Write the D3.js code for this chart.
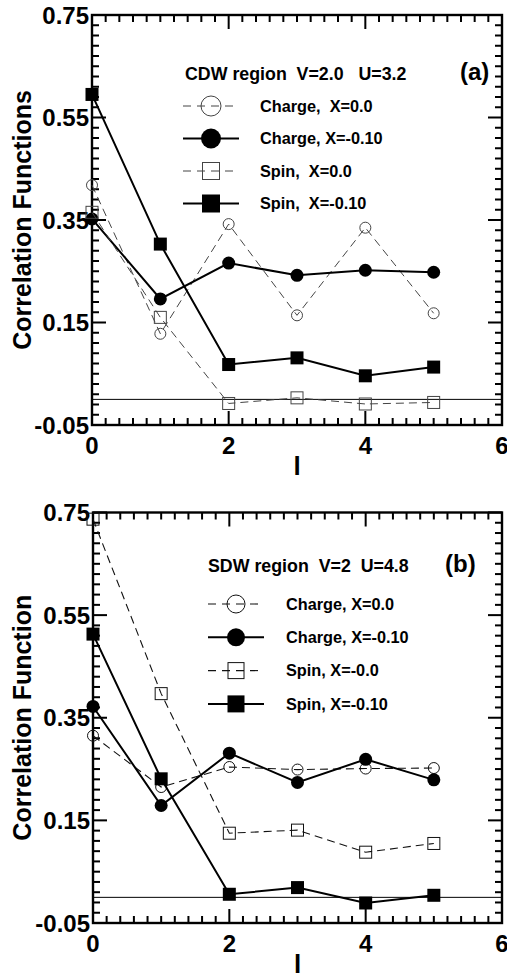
<!DOCTYPE html>
<html>
<head>
<meta charset="utf-8">
<script src="https://cdn.jsdelivr.net/npm/d3@7"></script>
<style>
  html, body { margin: 0; padding: 0; background: #fff; }
  svg { display: block; }
  text { font-family: "Liberation Sans", Arial, Helvetica, sans-serif; font-weight: bold; fill: #000; }
</style>
</head>
<body>
<svg id="chart" width="507" height="980"></svg>
<script>
// ---------- data ----------
const lValues = [0, 1, 2, 3, 4, 5];
const xMajorTicks = [0, 2, 4, 6];
const yMajorTicks = [-0.05, 0.15, 0.35, 0.55, 0.75];

// Panel (a): CDW region V=2.0 U=3.2
const chargeX0_a  = [0.418, 0.128, 0.342, 0.164, 0.335, 0.168];
const chargeX10_a = [0.352, 0.196, 0.266, 0.242, 0.252, 0.248];
const spinX0_a    = [0.365, 0.160, -0.008, 0.003, -0.009, -0.006];
const spinX10_a   = [0.595, 0.303, 0.068, 0.081, 0.046, 0.063];
const legend_a = ["Charge,  X=0.0", "Charge, X=-0.10", "Spin,  X=0.0", "Spin,  X=-0.10"];

// Panel (b): SDW region V=2 U=4.8
const chargeX0_b  = [0.315, 0.215, 0.254, 0.249, 0.251, 0.252];
const chargeX10_b = [0.372, 0.179, 0.281, 0.224, 0.269, 0.229];
const spinX0_b    = [0.737, 0.397, 0.125, 0.131, 0.088, 0.105];
const spinX10_b   = [0.513, 0.231, 0.006, 0.019, -0.011, 0.004];
const legend_b = ["Charge, X=0.0", "Charge, X=-0.10", "Spin, X=-0.0", "Spin, X=-0.10"];

// ---------- drawing ----------
const svg = d3.select("#chart");

function drawPanel(cfg) {
  const g = svg.append("g");
  const x = d3.scaleLinear().domain([0, 6]).range([cfg.left, cfg.right]);
  const y = d3.scaleLinear().domain([-0.05, 0.75]).range([cfg.bottom, cfg.top]);

  const xMinor = d3.range(0, 31).map(i => +(i * 0.2).toFixed(2)).filter(v => !xMajorTicks.includes(v));
  const yMinor = d3.range(0, 41).map(i => +(-0.05 + i * 0.02).toFixed(3))
    .filter(v => !yMajorTicks.some(m => Math.abs(m - v) < 1e-6));
  const H = cfg.bottom - cfg.top, W = cfg.right - cfg.left;

  // frame
  g.append("rect").attr("x", cfg.left).attr("y", cfg.top).attr("width", W).attr("height", H)
    .attr("fill", "none").attr("stroke", "#000").attr("stroke-width", 2.4);

  // ticks (inward, on all four sides) drawn as filled rectangles
  const tw = 2;
  const xTicks = xMinor.map(v => ({ v, len: 7 })).concat(xMajorTicks.map(v => ({ v, len: 14 })));
  const yTicks = yMinor.map(v => ({ v, len: 7 })).concat(yMajorTicks.map(v => ({ v, len: 14 })));
  const tk = g.append("g");
  xTicks.forEach(t => {
    tk.append("rect").attr("x", x(t.v) - tw / 2).attr("y", cfg.bottom - t.len).attr("width", tw).attr("height", t.len).attr("fill", "#000");
    tk.append("rect").attr("x", x(t.v) - tw / 2).attr("y", cfg.top).attr("width", tw).attr("height", t.len).attr("fill", "#000");
  });
  yTicks.forEach(t => {
    tk.append("rect").attr("x", cfg.left).attr("y", y(t.v) - tw / 2).attr("width", t.len).attr("height", tw).attr("fill", "#000");
    tk.append("rect").attr("x", cfg.right - t.len).attr("y", y(t.v) - tw / 2).attr("width", t.len).attr("height", tw).attr("fill", "#000");
  });

  // tick labels
  g.append("g").selectAll("text").data(xMajorTicks).join("text")
    .attr("x", d => x(d)).attr("y", cfg.bottom + 29).attr("text-anchor", "middle")
    .attr("font-size", 24).text(d => String(d));
  g.append("g").selectAll("text").data(yMajorTicks).join("text")
    .attr("x", cfg.left - 3).attr("y", d => y(d)).attr("dy", "0.36em").attr("text-anchor", "end")
    .attr("font-size", 24).text(d => d.toFixed(2));

  // zero line
  g.append("line").attr("x1", cfg.left).attr("x2", cfg.right)
    .attr("y1", y(0)).attr("y2", y(0)).attr("stroke", "#000").attr("stroke-width", 1);

  // axis titles
  g.append("text").attr("transform", `translate(${cfg.ytitleX},${(cfg.top + cfg.bottom) / 2}) rotate(-90)`)
    .attr("text-anchor", "middle").attr("dy", "0.35em").attr("font-size", 25).text(cfg.yTitle);
  g.append("text").attr("x", x(3)).attr("y", cfg.bottom + 50).attr("text-anchor", "middle")
    .attr("font-size", 26).text("l");

  // series
  const line = d3.line().x((d, i) => x(lValues[i])).y(d => y(d));
  cfg.series.forEach(s => {
    g.append("path").datum(s.values).attr("d", line).attr("fill", "none")
      .attr("stroke", s.dashed ? cfg.dashColor : "#000")
      .attr("stroke-width", s.dashed ? cfg.dashWidth : 2)
      .attr("stroke-dasharray", s.dashed ? "8,5" : null);
    const pts = g.append("g");
    s.values.forEach((v, i) => drawMarker(pts, s.marker, x(lValues[i]), y(v), s.size, s.dashed ? cfg.dashColor : "#000"));
  });

  // legend
  g.append("text").attr("x", cfg.headerX).attr("y", cfg.headerY).attr("font-size", 17.8)
    .style("white-space", "pre").text(cfg.header);
  g.append("text").attr("x", cfg.letterX).attr("y", cfg.headerY).attr("font-size", 24).text(cfg.letter);

  cfg.series.forEach((s, k) => {
    const yy = cfg.legY0 + k * cfg.legStep;
    const lx0 = cfg.legX0, lx1 = cfg.legX0 + 56, cx = (lx0 + lx1) / 2;
    g.append("line").attr("x1", lx0).attr("x2", lx1).attr("y1", yy).attr("y2", yy)
      .attr("stroke", s.dashed ? cfg.dashColor : "#000")
      .attr("stroke-width", s.dashed ? cfg.dashWidth : 2)
      .attr("stroke-dasharray", s.dashed ? "8,6" : null);
    drawMarker(g, s.marker, cx, yy, s.legSize, s.dashed ? cfg.dashColor : "#000");
    g.append("text").attr("x", cfg.legTextX).attr("y", yy).attr("dy", "0.36em").attr("font-size", 16.3)
      .style("white-space", "pre").text(cfg.legend[k]);
  });
}

function drawMarker(g, type, cx, cy, size, color) {
  if (type === "circle-open") {
    g.append("circle").attr("cx", cx).attr("cy", cy).attr("r", size / 2)
      .attr("fill", "none").attr("stroke", color).attr("stroke-width", 1);
  } else if (type === "circle-filled") {
    g.append("circle").attr("cx", cx).attr("cy", cy).attr("r", size / 2).attr("fill", "#000");
  } else if (type === "square-open") {
    g.append("rect").attr("x", cx - size / 2).attr("y", cy - size / 2).attr("width", size).attr("height", size)
      .attr("fill", "none").attr("stroke", color).attr("stroke-width", 1);
  } else {
    g.append("rect").attr("x", cx - size / 2).attr("y", cy - size / 2).attr("width", size).attr("height", size)
      .attr("fill", "#000");
  }
}

drawPanel({
  left: 92, right: 502, top: 15, bottom: 425, ytitleX: 22,
  yTitle: "Correlation Functions", header: "CDW region  V=2.0   U=3.2", letter: "(a)",
  headerX: 185, headerY: 80, letterX: 460, legX0: 183, legTextX: 260, legY0: 106, legStep: 32.5,
  legend: legend_a, dashColor: "#444", dashWidth: 1,
  series: [
    { values: chargeX0_a,  marker: "circle-open",   dashed: true,  size: 11, legSize: 20 },
    { values: chargeX10_a, marker: "circle-filled", dashed: false, size: 13, legSize: 20 },
    { values: spinX0_a,    marker: "square-open",   dashed: true,  size: 12, legSize: 17 },
    { values: spinX10_a,   marker: "square-filled", dashed: false, size: 13, legSize: 18 }
  ]
});

drawPanel({
  left: 93, right: 502, top: 512.5, bottom: 923, ytitleX: 22,
  yTitle: "Correlation Function", header: "SDW region  V=2  U=4.8", letter: "(b)",
  headerX: 208, headerY: 572, letterX: 445, legX0: 208, legTextX: 286, legY0: 604, legStep: 33.3,
  legend: legend_b, dashColor: "#111", dashWidth: 1.1,
  series: [
    { values: chargeX0_b,  marker: "circle-open",   dashed: true,  size: 11, legSize: 18 },
    { values: chargeX10_b, marker: "circle-filled", dashed: false, size: 13, legSize: 18 },
    { values: spinX0_b,    marker: "square-open",   dashed: true,  size: 12, legSize: 16 },
    { values: spinX10_b,   marker: "square-filled", dashed: false, size: 13, legSize: 17 }
  ]
});
</script>
</body>
</html>
